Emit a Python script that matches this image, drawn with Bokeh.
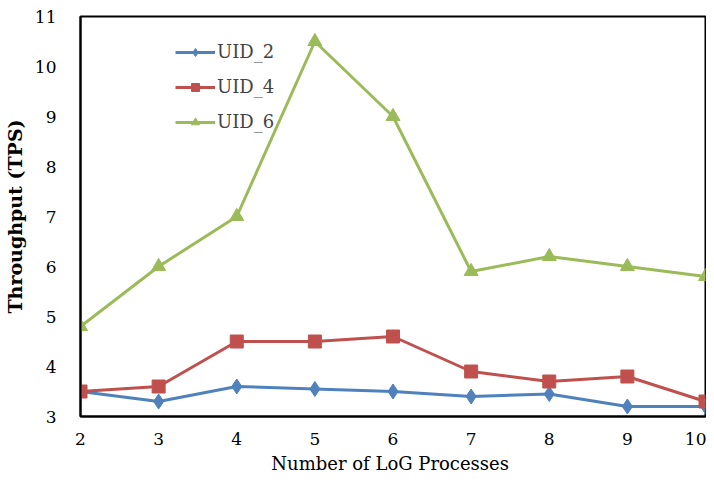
from bokeh.plotting import figure
from bokeh.models import Range1d, Legend, LegendItem, FixedTicker
from bokeh.embed import file_html
from bokeh.resources import INLINE

processes = [2, 3, 4, 5, 6, 7, 8, 9, 10]
uid_2 = [3.5, 3.3, 3.6, 3.55, 3.5, 3.4, 3.45, 3.2, 3.2]
uid_4 = [3.5, 3.6, 4.5, 4.5, 4.6, 3.9, 3.7, 3.8, 3.3]
uid_6 = [4.8, 6.0, 7.0, 10.5, 9.0, 5.9, 6.2, 6.0, 5.8]
x_ticks = [2, 3, 4, 5, 6, 7, 8, 9, 10]
y_ticks = [3, 4, 5, 6, 7, 8, 9, 10, 11]

FONT = "DejaVu Serif"

p = figure(width=706, height=476, output_backend="svg", toolbar_location=None,
           x_range=Range1d(2, 10), y_range=Range1d(3, 11),
           min_border_left=75, min_border_right=1, min_border_top=16, min_border_bottom=59)

p.grid.visible = False
p.outline_line_color = "black"
p.outline_line_width = 2
p.background_fill_color = "white"
p.border_fill_color = "white"

series = [("UID_2", uid_2, "#4F81BD", "diamond", 15),
          ("UID_4", uid_4, "#C0504D", "square", 13),
          ("UID_6", uid_6, "#9BBB59", "triangle", 14)]
items = []
for name, ys, color, marker, size in series:
    l = p.line(processes, ys, line_color=color, line_width=3)
    s = p.scatter(processes, ys, marker=marker, size=size, fill_color=color, line_color=color)
    items.append(LegendItem(label=name, renderers=[l, s]))

legend = Legend(items=items, location=(95, 284), border_line_color=None,
                background_fill_alpha=0, label_text_font=FONT,
                label_text_font_size="18px", glyph_width=40, glyph_height=20,
                spacing=14, padding=0, margin=0, label_standoff=2)
p.add_layout(legend)

for ax in (p.xaxis, p.yaxis):
    ax.major_tick_line_color = None
    ax.minor_tick_line_color = None
    ax.axis_line_color = "black"
    ax.axis_line_width = 2
    ax.major_label_text_font = FONT
    ax.major_label_text_font_size = "17px"
    ax.major_label_text_color = "black"
    ax.axis_label_text_font = FONT
    ax.axis_label_text_color = "black"

p.xaxis.ticker = FixedTicker(ticks=x_ticks)
p.yaxis.ticker = FixedTicker(ticks=y_ticks)
p.xaxis.major_label_standoff = 10
p.yaxis.major_label_standoff = 18
p.xaxis.axis_label = "Number of  LoG Processes"
p.xaxis.axis_label_text_font_style = "normal"
p.xaxis.axis_label_text_font_size = "18px"
p.xaxis.axis_label_standoff = 5
p.yaxis.axis_label = "Throughput (TPS)"
p.yaxis.axis_label_text_font_style = "bold"
p.yaxis.axis_label_text_font_size = "19px"
p.yaxis.axis_label_standoff = 6

open("out.html", "w").write(file_html(p, INLINE))
